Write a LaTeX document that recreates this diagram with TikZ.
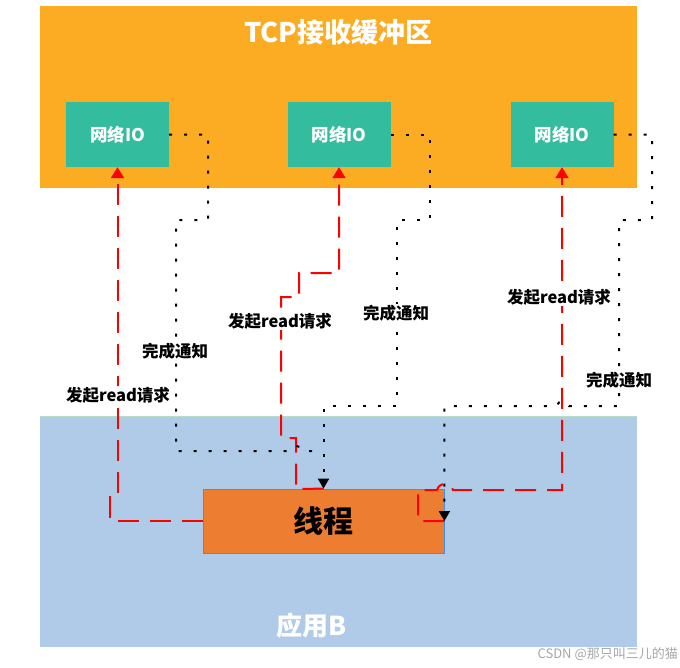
\documentclass[tikz,border=0pt]{standalone}
\usepackage{fontspec}
\setmainfont{Noto Sans CJK SC}
\usetikzlibrary{arrows.meta}
\definecolor{bufbg}{HTML}{FBAC23}
\definecolor{appbg}{HTML}{AFCBE8}
\definecolor{netgreen}{HTML}{33BC9D}
\definecolor{throrange}{HTML}{ED7D31}
\definecolor{thrborder}{HTML}{4A90D9}
\definecolor{appborder}{HTML}{B8DCC8}
\tikzset{
  netbox/.style={fill=netgreen, text=white, font=\bfseries\fontsize{17.5}{20}\selectfont, minimum width=103pt, minimum height=65pt, inner sep=0pt},
  thrbox/.style={fill=throrange, draw=thrborder, line width=0.8pt, font=\bfseries\fontsize{30}{34}\selectfont, minimum width=241pt, minimum height=64pt, inner sep=0pt},
  req/.style={draw=red, line width=2pt, dash pattern=on 21pt off 11pt},
  reqtip/.style={-{Triangle[width=13pt,length=11pt]}},
  done/.style={draw=black, line width=2pt, dash pattern=on 3pt off 12pt},
  donetip/.style={-{Triangle[width=11pt,length=10pt]}},
  lbl/.style={fill=white, inner sep=1pt, font=\bfseries\fontsize{16.5}{19}\selectfont},
  bigtitle/.style={text=white, font=\bfseries\fontsize{27}{30}\selectfont}
}
\begin{document}
\begin{tikzpicture}[x=1pt, y=-1pt]
\useasboundingbox (0,0) rectangle (680,667);
% background regions
\fill[bufbg] (40,6) rectangle (637,188);
\fill[appbg] (40,416) rectangle (637,647);
\draw[appborder, line width=0.8pt] (40,416) -- (637,416);
\node[bigtitle] (title) at (338,32) {TCP接收缓冲区};
\node[bigtitle, font=\bfseries\fontsize{26}{30}\selectfont] (app) at (312,626) {应用B};
% network IO boxes
\node[netbox] (io1) at (117.5,134.5) {网络IO};
\node[netbox] (io2) at (339,134.5) {网络IO};
\node[netbox] (io3) at (562,134.5) {网络IO};
% thread
\node[thrbox] (thr) at (323.5,521) {线程};
% read requests (red dashed)
\draw[req, reqtip] (thr.west) -- (110,521) -- (110,497) -| (io1.south);
\draw[req, reqtip] (thr.north) -- (296,489) -- (296,438) -- (281,438) -- (281,297) -- (299,297) -- (299,273) -| (io2.south);
\draw[req, reqtip] (thr.east) -- (418,521) -- (418,490) -- (437,490) .. controls (439,482) and (451,482) .. (453,490) -| (io3.south);
% completion notifications (black dotted)
\draw[done] (io1.east) -- (208,134.5) -- (208,220) -- (176,220) -- (176,451) -- (288,451) .. controls (290,444) and (301,444) .. (303,451) -- (323,451);
\draw[done, donetip] (io2.east) -- (430,134.5) -- (430,220) -- (397,220) -- (397,406) -| (thr.north);
\draw[done, donetip] (io3.east) -- (652,134.5) -- (652,220) -- (619,220) -- (619,406) -- (569,406) .. controls (567,399) and (559,399) .. (557,406) -| (thr.east);
% labels
\node[lbl] (l1) at (175,351) {完成通知};
\node[lbl] (l2) at (118,395) {发起read请求};
\node[lbl] (l3) at (280,321) {发起read请求};
\node[lbl] (l4) at (396,313) {完成通知};
\node[lbl] (l5) at (559,297) {发起read请求};
\node[lbl] (l6) at (619,380) {完成通知};
% watermark
\node[anchor=east, text=gray!70, font=\fontsize{13}{15}\selectfont, inner sep=0pt] (wm) at (678,654) {CSDN @那只叫三儿的猫};
\end{tikzpicture}
\end{document}
